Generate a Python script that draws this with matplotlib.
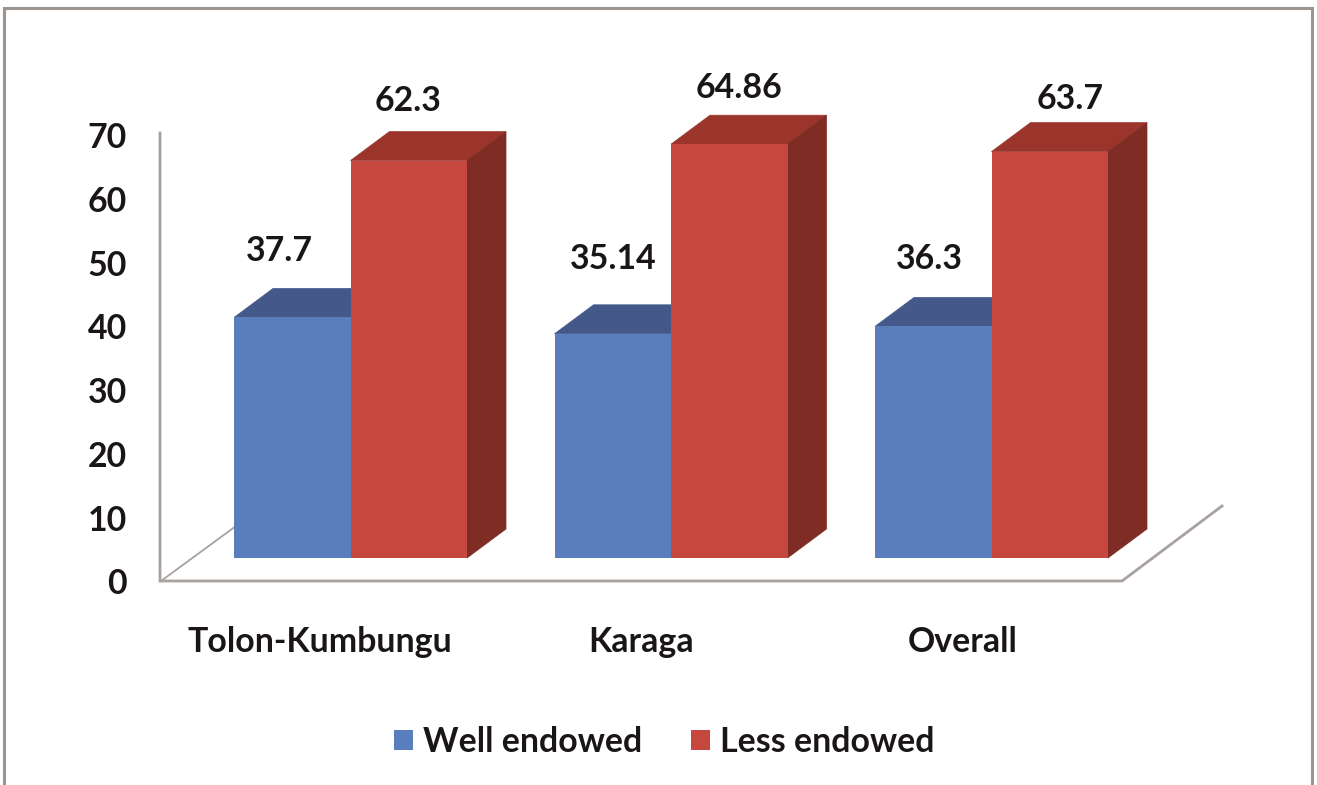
# 3D-look clustered bars, drawn on a plain 2D axes

import matplotlib
matplotlib.use("Agg")
import numpy as np
import matplotlib.pyplot as plt
from matplotlib.patches import Polygon

plt.rcParams['font.family'] = ['Lato', 'DejaVu Sans']
plt.rcParams['font.weight'] = 'bold'

categories = ["Tolon-Kumbungu", "Karaga", "Overall"]
well_endowed = [37.7, 35.14, 36.3]
less_endowed = [62.3, 64.86, 63.7]
well_labels = ["37.7", "35.14", "36.3"]
less_labels = ["62.3", "64.86", "63.7"]
y_ticks = [0, 10, 20, 30, 40, 50, 60, 70]

W, H = 1317, 785
X_UNIT = 320.5   # pixels per category
Y_UNIT = 6.38    # pixels per percent
X0, Y0 = 350.5, 558  # pixel position of first category, value 0

bar_w = 116.5 / X_UNIT
dx = 39 / X_UNIT   # depth offset of the fake 3D
dy = 29 / Y_UNIT

BLUE, BLUE_TOP = "#5A7EBC", "#44598A"
RED, RED_TOP, RED_SIDE = "#C6473E", "#9B352C", "#7F2C25"
GREY = "#A8A19E"
INK = "#1A1616"
FS = 24.4

fig = plt.figure(figsize=(W / 100, H / 100), dpi=100)
ax = fig.add_axes([0, 0, 1, 1])
ax.set_xlim(-X0 / X_UNIT, (W - X0) / X_UNIT)
ax.set_ylim((Y0 - H) / Y_UNIT, Y0 / Y_UNIT)
ax.axis("off")

x = np.arange(len(categories))


def px(v):
    return (v - X0) / X_UNIT


def py(v):
    return (Y0 - v) / Y_UNIT


# outer frame, no bottom edge in the picture
ax.plot([px(4), px(4), px(1312), px(1312)], [py(785), py(8), py(8), py(785)],
        color="#9C9490", lw=2.2, solid_joinstyle="miter")

# wall and floor
ax.plot([px(160), px(160), px(1122), px(1222)], [py(133), py(581), py(581), py(506)],
        color=GREY, lw=2.0, solid_joinstyle="miter", zorder=1)
ax.plot([px(161), px(236)], [py(581), py(526)], color=GREY, lw=1.3, zorder=1)

# blue first, the red bar hides its right part
ax.bar(x - bar_w / 2, well_endowed, bar_w, color=BLUE, label="Well endowed", zorder=3)
ax.bar(x + bar_w / 2, less_endowed, bar_w, color=RED, label="Less endowed", zorder=5)

for i in x:
    left = i - bar_w
    top = well_endowed[i]
    ax.add_patch(Polygon([(left, top), (left + dx, top + dy), (i + dx, top + dy), (i, top)],
                         facecolor=BLUE_TOP, edgecolor=BLUE_TOP, lw=0.5, zorder=2))
    top = less_endowed[i]
    right = i + bar_w
    ax.add_patch(Polygon([(i, top), (i + dx, top + dy), (right + dx, top + dy), (right, top)],
                         facecolor=RED_TOP, edgecolor=RED_TOP, lw=0.5, zorder=4))
    ax.add_patch(Polygon([(right, 0), (right + dx, dy), (right + dx, top + dy), (right, top)],
                         facecolor=RED_SIDE, edgecolor=RED_SIDE, lw=0.5, zorder=4))

# value labels, placed by hand in the original so offsets differ a bit
well_offset = [(-13, 66), (0, 75), (-4, 67)]
less_offset = [(-1, 60), (10, 56), (20, 53)]
for i in x:
    ax.annotate(well_labels[i], (i - bar_w / 2, well_endowed[i]), xytext=well_offset[i],
                textcoords="offset pixels", ha="center", va="center", fontsize=FS, color=INK)
    ax.annotate(less_labels[i], (i + bar_w / 2, less_endowed[i]), xytext=less_offset[i],
                textcoords="offset pixels", ha="center", va="center", fontsize=FS, color=INK)

# y ticks sit on the wall, whose zero is lower than the bar baseline
for t in y_ticks:
    ax.annotate(str(t), (px(127), t), xytext=(0, (558 - 584.5)), textcoords="offset pixels",
                ha="right", va="center", fontsize=FS, color=INK)

for i, name in zip([320, 641, 963], categories):
    ax.text(px(i), py(642), name, ha="center", va="center", fontsize=FS, color=INK)

ax.legend(loc="center", bbox_to_anchor=(664.5 / W, 1 - 742 / H), ncol=2, frameon=False,
          fontsize=FS, handlelength=0.56, handleheight=0.56, handletextpad=0.3,
          columnspacing=1.43, labelcolor=INK)

fig.savefig("out.png", dpi=100)
